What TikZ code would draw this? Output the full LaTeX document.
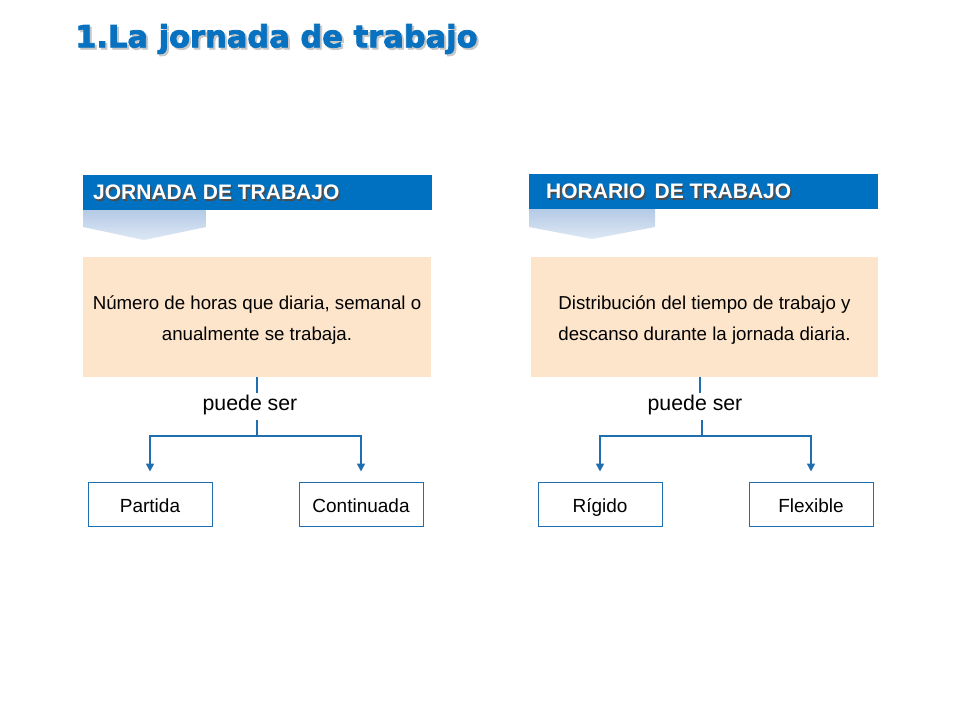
\documentclass[tikz,border=0pt]{standalone}
\usepackage{fontspec}
\setmainfont{Liberation Sans}
\newfontfamily\titlefont[BoldFeatures={FakeBold=2.5}]{DejaVu Sans}
\usetikzlibrary{arrows.meta}
\definecolor{hdrblue}{RGB}{0,112,192}
\definecolor{titleblue}{RGB}{8,114,192}
\definecolor{lineblue}{RGB}{31,110,176}
\definecolor{peach}{RGB}{253,229,204}
\definecolor{chevtop}{RGB}{180,202,230}
\definecolor{chevbot}{RGB}{222,232,245}
\tikzset{
  hdrbar/.style={fill=hdrblue, draw=none},
  hdrtext/.style={text=white, font=\fontsize{21}{24}\selectfont\bfseries, inner sep=0pt, anchor=west},
  hdrshadow/.style={text=black!70, font=\fontsize{21}{24}\selectfont\bfseries, inner sep=0pt, anchor=west},
  descbox/.style={fill=peach, draw=none, minimum width=348pt, minimum height=120pt, inner sep=0pt},
  desctext/.style={align=center, inner sep=0pt, font=\fontsize{18.7}{31}\selectfont},
  psertext/.style={font=\fontsize{21.3}{24}\selectfont, inner sep=0pt},
  leafbox/.style={draw=lineblue, line width=1pt, fill=white, minimum width=124pt, minimum height=44pt,
    inner sep=0pt, text height=16pt, text depth=0pt, font=\fontsize{19}{22}\selectfont},
  conn/.style={draw=lineblue, line width=1.3pt},
  branch/.style={draw=lineblue, line width=1.6pt, -{Triangle[width=8pt,length=8pt]}, shorten >=10pt},
}
\begin{document}
\begin{tikzpicture}[x=1pt,y=-1pt]
\useasboundingbox (0,0) rectangle (960,720);
\fill[white] (0,0) rectangle (960,720);

% title
\node[anchor=west, inner sep=0pt, text=black!22, font=\titlefont\fontsize{30.5}{34}\selectfont\bfseries] (titleshadow) at (77,41) {1.La jornada de trabajo};
\node[anchor=west, inner sep=0pt, text=titleblue, font=\titlefont\fontsize{30.5}{34}\selectfont\bfseries] (title) at (75,39) {1.La jornada de trabajo};

% ---------- left column ----------
\fill[hdrbar] (83,175) rectangle (432,210);
\node[hdrshadow] (jhs) at (94.5,194) {JORNADA DE TRABAJO};
\node[hdrtext] (jh) at (93,192.5) {JORNADA DE TRABAJO};
\shade[top color=chevtop, bottom color=chevbot] (83,210) -- (206,210) -- (206,227) -- (144,240) -- (83,227) -- cycle;
\node[descbox] (jdesc) at (257,317) {};
\node[desctext] (jdesctext) at (257,320) {Número de horas que diaria, semanal o\\anualmente se trabaja.};
\node[psertext] (jps) at (250,405) {puede ser};
\coordinate (jps2) at (257,420);
\coordinate (jfork) at (257,436);
\node[leafbox] (jp) at (150,504) {Partida};
\node[leafbox] (jc) at (361,504) {Continuada};
\draw[conn] (jdesc.south) -- ++(0,16);
\draw[conn] (jps2) -- (jfork);
\draw[branch] (jfork) -| (jp.north);
\draw[branch] (jfork) -| (jc.north);

% ---------- right column ----------
\fill[hdrbar] (529,174) rectangle (878,209);
\node[hdrshadow] (hhs) at (547.5,193) {HORARIO\, DE TRABAJO};
\node[hdrtext] (hh) at (546,191.5) {HORARIO\, DE TRABAJO};
\shade[top color=chevtop, bottom color=chevbot] (529,209) -- (655,209) -- (655,227) -- (592,239) -- (529,227) -- cycle;
\node[descbox, minimum width=347pt] (hdesc) at (704.5,316.5) {};
\node[desctext] (hdesctext) at (704.5,320.5) {Distribución del tiempo de trabajo y\\descanso durante la jornada diaria.};
\coordinate (htop) at (700,376.5);
\coordinate (hmid) at (700,393);
\node[psertext] (hps) at (695,405) {puede ser};
\coordinate (hps2) at (702,420);
\coordinate (hfork) at (702,436);
\node[leafbox] (hr) at (600,504) {Rígido};
\node[leafbox] (hf) at (811,504) {Flexible};
\draw[conn] (htop) -- (hmid);
\draw[conn] (hps2) -- (hfork);
\draw[branch] (hfork) -| (hr.north);
\draw[branch] (hfork) -| (hf.north);
\end{tikzpicture}
\end{document}
